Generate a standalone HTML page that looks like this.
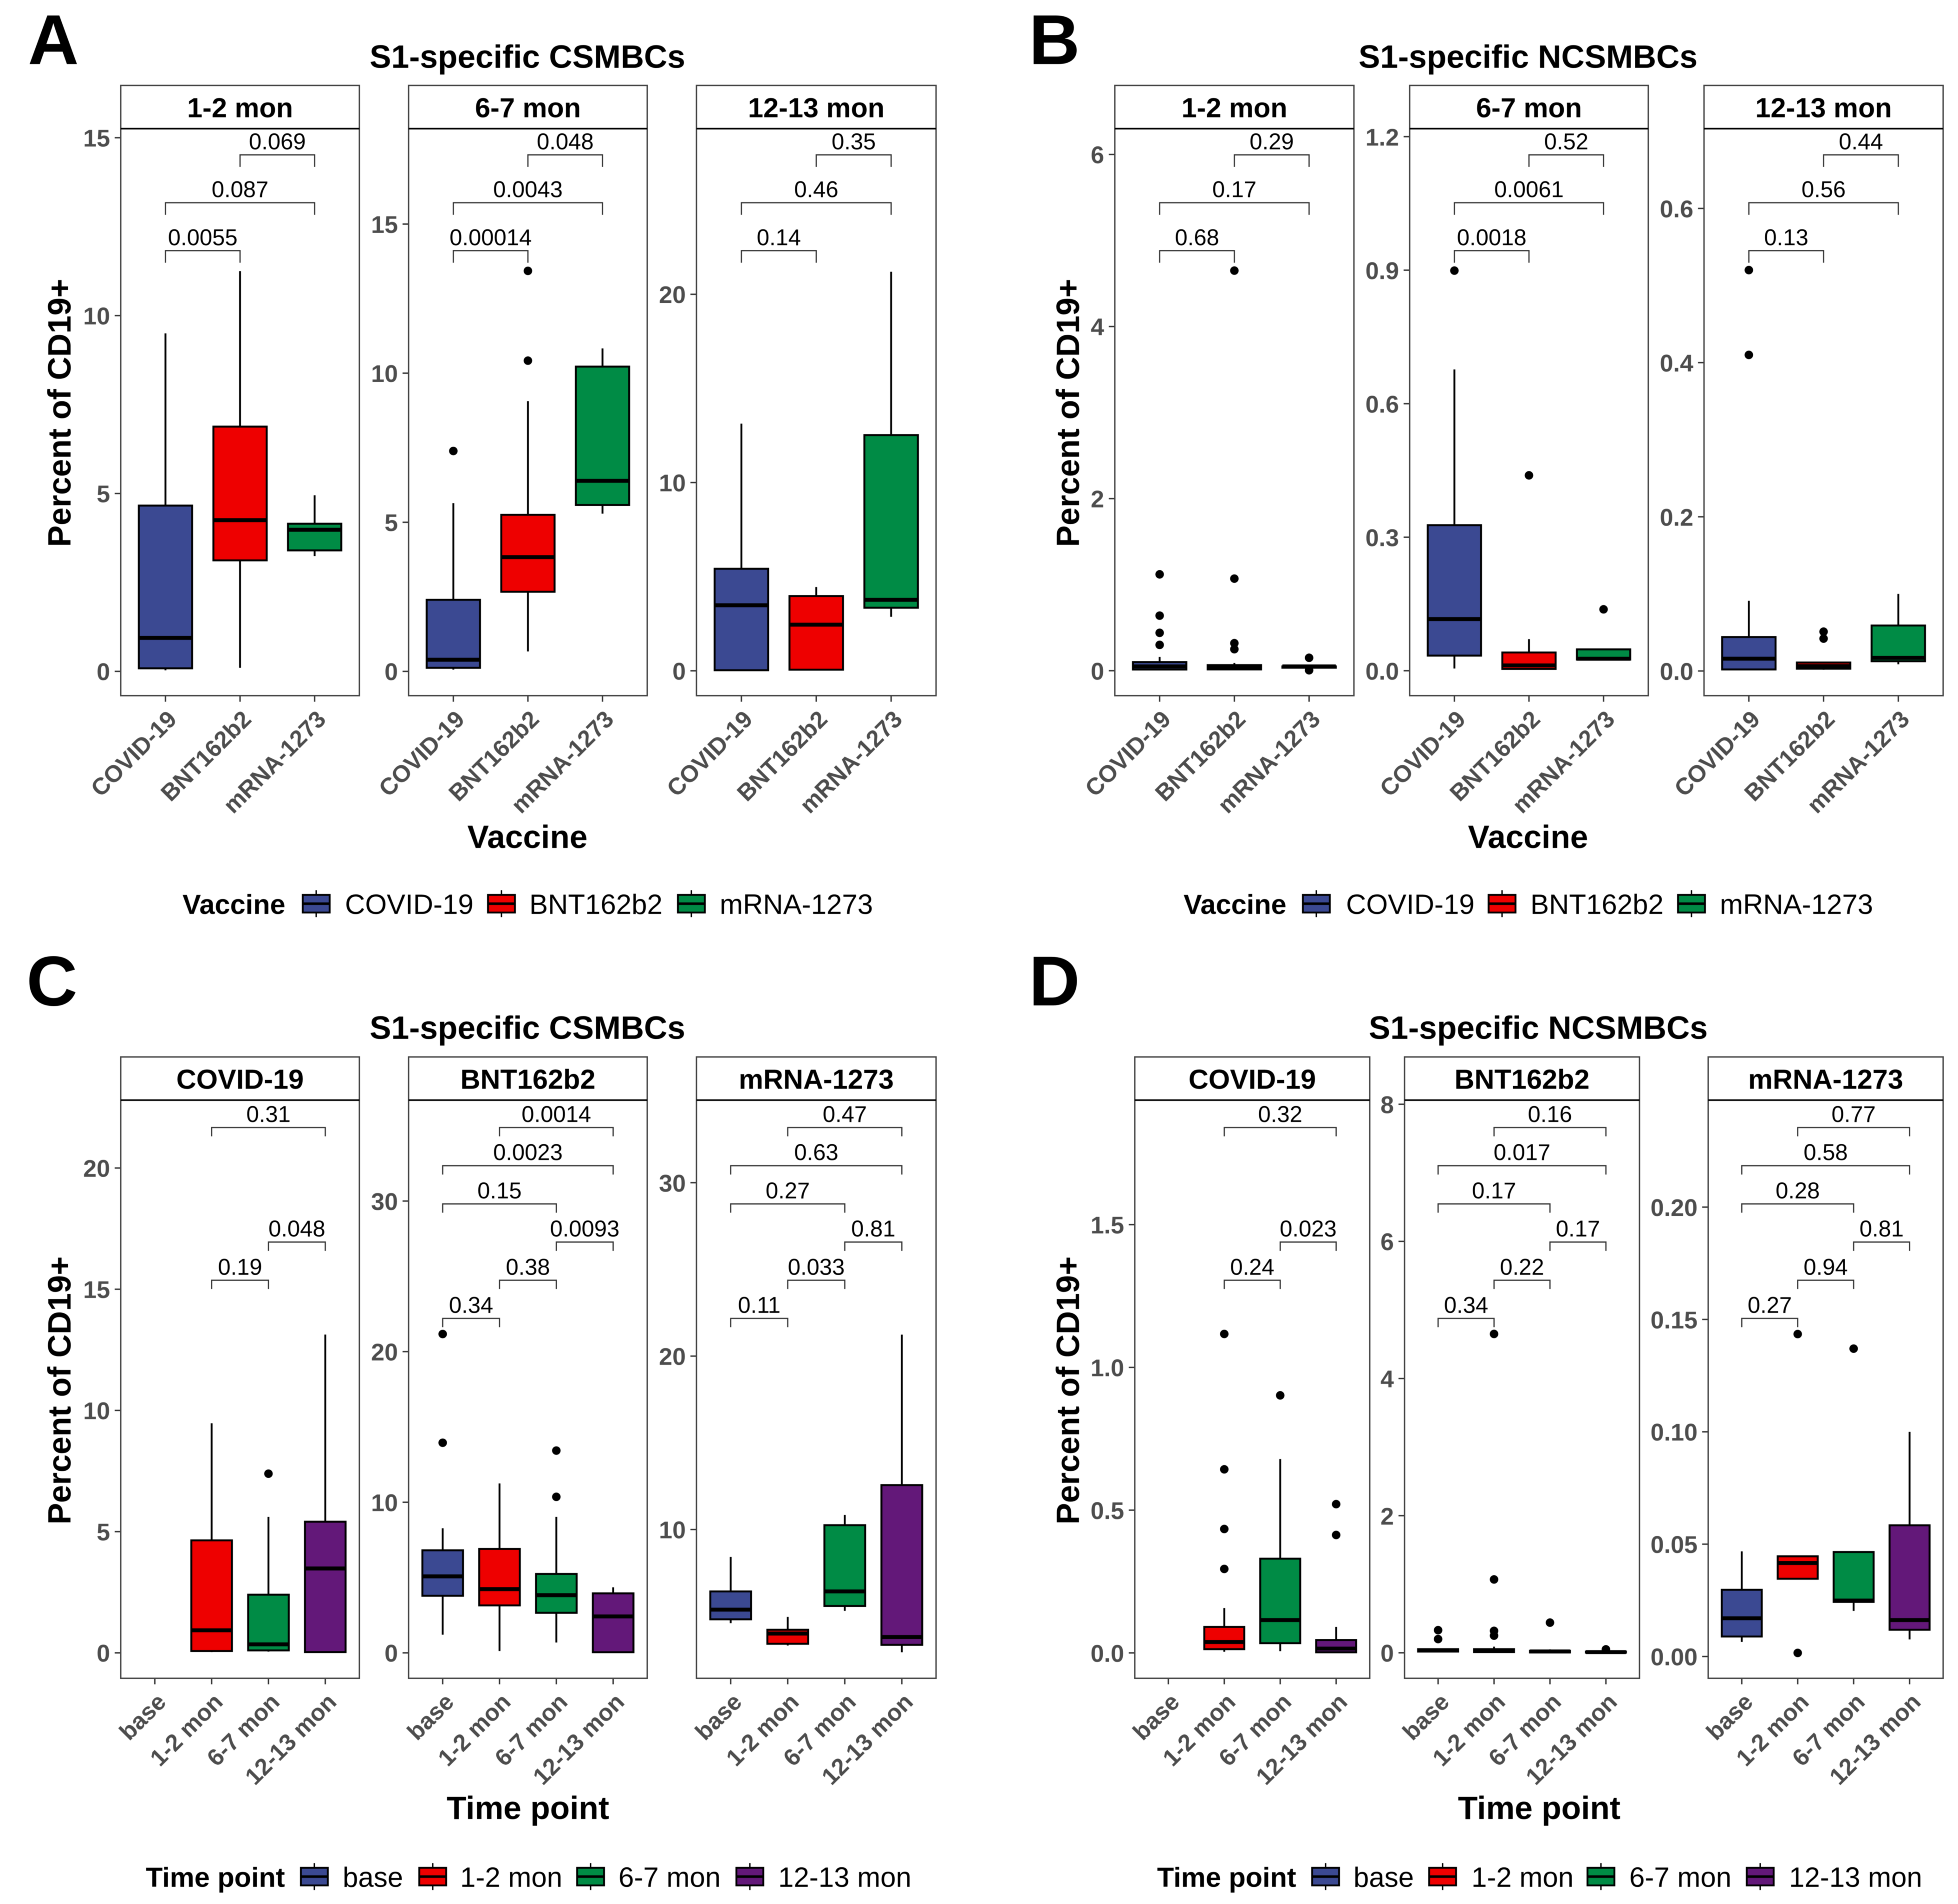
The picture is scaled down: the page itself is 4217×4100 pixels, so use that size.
<!DOCTYPE html>
<html lang="en">
<head>
<meta charset="utf-8">
<title>S1-specific memory B cell boxplots</title>
<style>
html,body{margin:0;padding:0;background:#fff;}
svg{display:block;font-family:"Liberation Sans",sans-serif;filter:blur(0.6px);}
</style>
</head>
<body>
<svg id="figure" xmlns="http://www.w3.org/2000/svg" width="4217" height="4100" viewBox="0 0 4217 4100">
<rect x="0" y="0" width="4217" height="4100" fill="#ffffff"/>
</svg>
<script>
// Category sets
const vaccineCats = ['COVID-19', 'BNT162b2', 'mRNA-1273'];
const timeCats = ['base', '1-2 mon', '6-7 mon', '12-13 mon'];

// Each stats row: [whisker low, q1, median, q3, whisker high]
// Panel A
const a1Stats = [[0.03,0.085,0.94,4.66,9.5],[0.1,3.12,4.25,6.88,11.25],[3.24,3.4,3.98,4.15,4.95]];
const a1Outliers = [[],[],[]];
const a1Domain = [-0.683,15.256];
const a1Ticks = [0,5,10,15];
const a1TickLabels = ['0','5','10','15'];
const a1P = ['0.069','0.087','0.0055'];

const a2Stats = [[0.06,0.12,0.39,2.4,5.64],[0.67,2.67,3.83,5.25,9.06],[5.29,5.58,6.39,10.22,10.83]];
const a2Outliers = [[7.39],[10.42,13.43],[]];
const a2Domain = [-0.814,18.2];
const a2Ticks = [0,5,10,15];
const a2TickLabels = ['0','5','10','15'];
const a2P = ['0.048','0.0043','0.00014'];

const a3Stats = [[0,0.03,3.48,5.42,13.13],[0.06,0.06,2.45,3.97,4.45],[2.87,3.35,3.77,12.52,21.2]];
const a3Outliers = [[],[],[]];
const a3Domain = [-1.32,28.8];
const a3Ticks = [0,10,20];
const a3TickLabels = ['0','10','20'];
const a3P = ['0.35','0.46','0.14'];

// Panel B
const b1Stats = [[0.01,0.014,0.05,0.1,0.16],[0.01,0.015,0.035,0.065,0.09],[0.03,0.035,0.05,0.05,0.06]];
const b1Outliers = [[0.3,0.44,0.64,1.12],[0.25,0.32,1.07,4.65],[0.005,0.15]];
const b1Domain = [-0.29,6.3];
const b1Ticks = [0,2,4,6];
const b1TickLabels = ['0','2','4','6'];
const b1P = ['0.29','0.17','0.68'];

const b2Stats = [[0.005,0.034,0.116,0.327,0.677],[0.003,0.004,0.012,0.041,0.071],[0.025,0.025,0.027,0.048,0.048]];
const b2Outliers = [[0.899],[0.439],[0.138]];
const b2Domain = [-0.056,1.218];
const b2Ticks = [0,0.3,0.6,0.9,1.2];
const b2TickLabels = ['0.0','0.3','0.6','0.9','1.2'];
const b2P = ['0.52','0.0061','0.0018'];

const b3Stats = [[0.0016,0.002,0.016,0.044,0.091],[0.0016,0.003,0.0063,0.011,0.011],[0.0087,0.0126,0.017,0.059,0.1]];
const b3Outliers = [[0.41,0.52],[0.042,0.051],[]];
const b3Domain = [-0.032,0.7035];
const b3Ticks = [0,0.2,0.4,0.6];
const b3TickLabels = ['0.0','0.2','0.4','0.6'];
const b3P = ['0.44','0.56','0.13'];

// Panel C
const c1Stats = [null,[0.03,0.075,0.93,4.64,9.47],[0.05,0.1,0.35,2.4,5.61],[0,0.03,3.48,5.41,13.13]];
const c1Outliers = [[],[],[7.39],[]];
const c1Domain = [-1.05,22.8];
const c1Ticks = [0,5,10,15,20];
const c1TickLabels = ['0','5','10','15','20'];
const c1P = ['0.31',null,null,'0.048','0.19',null];

const c2Stats = [[1.21,3.79,5.08,6.81,8.27],[0.12,3.15,4.23,6.9,11.25],[0.69,2.66,3.83,5.24,9.03],[0.04,0.04,2.42,3.95,4.35]];
const c2Outliers = [[13.95,21.17],[],[10.36,13.43],[]];
const c2Domain = [-1.69,36.7];
const c2Ticks = [0,10,20,30];
const c2TickLabels = ['0','10','20','30'];
const c2P = ['0.0014','0.0023','0.15','0.0093','0.38','0.34'];

const c3Stats = [[4.6,4.82,5.38,6.43,8.42],[3.31,3.41,4.0,4.22,4.96],[5.31,5.59,6.43,10.25,10.84],[2.92,3.35,3.8,12.56,21.24]];
const c3Outliers = [[],[],[],[]];
const c3Domain = [1.42,34.76];
const c3Ticks = [10,20,30];
const c3TickLabels = ['10','20','30'];
const c3P = ['0.47','0.63','0.27','0.81','0.033','0.11'];

// Panel D
const d1Stats = [null,[0.004,0.013,0.038,0.091,0.157],[0.006,0.034,0.115,0.33,0.679],[0,0.002,0.015,0.045,0.091]];
const d1Outliers = [[],[0.294,0.434,0.643,1.117],[0.902],[0.413,0.521]];
const d1Domain = [-0.089,1.936];
const d1Ticks = [0,0.5,1,1.5];
const d1TickLabels = ['0.0','0.5','1.0','1.5'];
const d1P = ['0.32',null,null,'0.023','0.24',null];

const d2Stats = [[0.01,0.018,0.035,0.053,0.06],[0,0.01,0.03,0.053,0.09],[0.005,0.005,0.02,0.03,0.05],[0.003,0.003,0.01,0.018,0.027]];
const d2Outliers = [[0.2,0.33],[0.25,0.32,1.07,4.65],[0.44],[0.05]];
const d2Domain = [-0.372,8.06];
const d2Ticks = [0,2,4,6,8];
const d2TickLabels = ['0','2','4','6','8'];
const d2P = ['0.16','0.017','0.17','0.17','0.22','0.34'];

const d3Stats = [[0.0065,0.0089,0.017,0.0297,0.0468],[0.0346,0.0346,0.0416,0.0446,0.0446],[0.0203,0.0243,0.0249,0.0465,0.0465],[0.0076,0.0119,0.0162,0.0584,0.1]];
const d3Outliers = [[],[0.0016,0.1435],[0.137],[]];
const d3Domain = [-0.0097,0.2476];
const d3Ticks = [0,0.05,0.1,0.15,0.2];
const d3TickLabels = ['0.00','0.05','0.10','0.15','0.20'];
const d3P = ['0.77','0.58','0.28','0.81','0.94','0.27'];

// Comparison pairs: [first category index, second category index, stacking level]
const threePairs = [[1,2,0],[0,2,1],[0,1,2]];
const fourPairs = [[1,3,0],[0,3,1],[0,2,2],[2,3,3],[1,2,4],[0,1,5]];

const palette = ['#3B4992','#EE0000','#008B45','#631879'];
const topRow = {top:184, stripBottom:277, bottom:1498, bracket0:333.4, step:103.2, tip:26};
const lowRow = {top:2276, stripBottom:2369, bottom:3614, bracket0:2428, step:82.2, tip:19};

const panels = [
  {id:'a1',strip:'1-2 mon',left:260,right:774,row:topRow,cats:vaccineCats,stats:a1Stats,outliers:a1Outliers,domain:a1Domain,ticks:a1Ticks,tickLabels:a1TickLabels,p:a1P,pairs:threePairs},
  {id:'a2',strip:'6-7 mon',left:880,right:1394,row:topRow,cats:vaccineCats,stats:a2Stats,outliers:a2Outliers,domain:a2Domain,ticks:a2Ticks,tickLabels:a2TickLabels,p:a2P,pairs:threePairs},
  {id:'a3',strip:'12-13 mon',left:1500,right:2016,row:topRow,cats:vaccineCats,stats:a3Stats,outliers:a3Outliers,domain:a3Domain,ticks:a3Ticks,tickLabels:a3TickLabels,p:a3P,pairs:threePairs},
  {id:'b1',strip:'1-2 mon',left:2401,right:2916,row:topRow,cats:vaccineCats,stats:b1Stats,outliers:b1Outliers,domain:b1Domain,ticks:b1Ticks,tickLabels:b1TickLabels,p:b1P,pairs:threePairs},
  {id:'b2',strip:'6-7 mon',left:3036,right:3550,row:topRow,cats:vaccineCats,stats:b2Stats,outliers:b2Outliers,domain:b2Domain,ticks:b2Ticks,tickLabels:b2TickLabels,p:b2P,pairs:threePairs},
  {id:'b3',strip:'12-13 mon',left:3670,right:4185,row:topRow,cats:vaccineCats,stats:b3Stats,outliers:b3Outliers,domain:b3Domain,ticks:b3Ticks,tickLabels:b3TickLabels,p:b3P,pairs:threePairs},
  {id:'c1',strip:'COVID-19',left:260,right:774,row:lowRow,cats:timeCats,stats:c1Stats,outliers:c1Outliers,domain:c1Domain,ticks:c1Ticks,tickLabels:c1TickLabels,p:c1P,pairs:fourPairs},
  {id:'c2',strip:'BNT162b2',left:880,right:1394,row:lowRow,cats:timeCats,stats:c2Stats,outliers:c2Outliers,domain:c2Domain,ticks:c2Ticks,tickLabels:c2TickLabels,p:c2P,pairs:fourPairs},
  {id:'c3',strip:'mRNA-1273',left:1500,right:2016,row:lowRow,cats:timeCats,stats:c3Stats,outliers:c3Outliers,domain:c3Domain,ticks:c3Ticks,tickLabels:c3TickLabels,p:c3P,pairs:fourPairs},
  {id:'d1',strip:'COVID-19',left:2444,right:2950,row:lowRow,cats:timeCats,stats:d1Stats,outliers:d1Outliers,domain:d1Domain,ticks:d1Ticks,tickLabels:d1TickLabels,p:d1P,pairs:fourPairs},
  {id:'d2',strip:'BNT162b2',left:3025,right:3531,row:lowRow,cats:timeCats,stats:d2Stats,outliers:d2Outliers,domain:d2Domain,ticks:d2Ticks,tickLabels:d2TickLabels,p:d2P,pairs:fourPairs},
  {id:'d3',strip:'mRNA-1273',left:3679,right:4185,row:lowRow,cats:timeCats,stats:d3Stats,outliers:d3Outliers,domain:d3Domain,ticks:d3Ticks,tickLabels:d3TickLabels,p:d3P,pairs:fourPairs}
];

const headings = [
  {id:'a',letter:'A',letterX:60,letterY:138,title:'S1-specific CSMBCs',titleX:1136,titleY:146,yTitleX:152,yTitleY:889,xTitle:'Vaccine',xTitleX:1136,xTitleY:1826},
  {id:'b',letter:'B',letterX:2216,letterY:138,title:'S1-specific NCSMBCs',titleX:3291,titleY:146,yTitleX:2324,yTitleY:889,xTitle:'Vaccine',xTitleX:3291,xTitleY:1826},
  {id:'c',letter:'C',letterX:57,letterY:2165,title:'S1-specific CSMBCs',titleX:1136,titleY:2237,yTitleX:152,yTitleY:2994,xTitle:'Time point',xTitleX:1137,xTitleY:3917},
  {id:'d',letter:'D',letterX:2216,letterY:2165,title:'S1-specific NCSMBCs',titleX:3313,titleY:2237,yTitleX:2324,yTitleY:2994,xTitle:'Time point',xTitleX:3315,xTitleY:3917}
];

const legends = [
  {id:'a',title:'Vaccine',titleX:393,y:1946,cats:vaccineCats,keyX:[652,1051,1460],textX:[743,1140,1550]},
  {id:'b',title:'Vaccine',titleX:2549,y:1946,cats:vaccineCats,keyX:[2806,3206,3614],textX:[2899,3296,3704]},
  {id:'c',title:'Time point',titleX:314,y:4041,cats:timeCats,keyX:[648,903,1243,1586],textX:[738,991,1332,1676]},
  {id:'d',title:'Time point',titleX:2492,y:4041,cats:timeCats,keyX:[2826,3078,3419,3762],textX:[2915,3169,3509,3853]}
];

const svg = document.getElementById('figure');
const NS = 'http://www.w3.org/2000/svg';

function make(tag, parent, attrs, text) {
  const node = document.createElementNS(NS, tag);
  for (const key in attrs) node.setAttribute(key, attrs[key]);
  if (text !== undefined) node.textContent = text;
  parent.appendChild(node);
  return node;
}

function linePath(x1, y1, x2, y2, stroke, width, parent) {
  return make('line', parent, {x1:x1, y1:y1, x2:x2, y2:y2, stroke:stroke, 'stroke-width':width});
}

function slug(s) {
  return String(s).toLowerCase().replace(/[^a-z0-9]+/g, '-');
}

function drawPanel(p) {
  const row = p.row;
  const width = p.right - p.left;
  const unit = width / (p.cats.length + 0.2);
  const boxW = unit * 0.715;
  const xScale = i => p.left + (i + 0.6) * unit;
  const yScale = v => row.bottom - (v - p.domain[0]) / (p.domain[1] - p.domain[0]) * (row.bottom - row.stripBottom);

  const g = make('g', svg, {});
  
  

  const bg = make('rect', g, {x:p.left, y:row.stripBottom, width:width, height:row.bottom-row.stripBottom, fill:'#ffffff'});
  
  

  // y axis
  p.ticks.forEach((t, i) => {
    const y = yScale(t);
    const tick = linePath(p.left - 13, y, p.left, y, '#333333', 3, g);
    
    
    const lab = make('text', g, {x:p.left - 23, y:y + 19, 'text-anchor':'end', 'font-size':52, 'font-weight':'bold', fill:'#4d4d4d'}, p.tickLabels[i]);
    
    
  });

  // x axis
  p.cats.forEach((c, i) => {
    const x = xScale(i);
    const tick = linePath(x, row.bottom, x, row.bottom + 13, '#333333', 3, g);
    
    
    const ax = x + 27;
    const ay = row.bottom + 54;
    const lab = make('text', g, {x:ax, y:ay, 'text-anchor':'end', 'font-size':51, 'font-weight':'bold', fill:'#4d4d4d', transform:'rotate(-45 ' + ax + ' ' + ay + ')'}, c);
    
    
  });

  // boxes
  p.stats.forEach((s, i) => {
    if (!s) return;
    const cat = p.cats[i];
    const x = xScale(i);
    const low = yScale(s[0]), q1 = yScale(s[1]), med = yScale(s[2]), q3 = yScale(s[3]), high = yScale(s[4]);
    const wTop = linePath(x, q3, x, high, '#000000', 4, g);
    
    
    const wLow = linePath(x, q1, x, low, '#000000', 4, g);
    
    
    const box = make('rect', g, {x:x - boxW / 2, y:q3, width:boxW, height:q1 - q3, fill:palette[i], stroke:'#000000', 'stroke-width':4.2});
    
    
    const medLine = linePath(x - boxW / 2, med, x + boxW / 2, med, '#000000', 8.5, g);
    
    
  });

  // outliers
  p.outliers.forEach((list, i) => {
    list.forEach(v => {
      const dot = make('circle', g, {cx:xScale(i), cy:yScale(v), r:9.2, fill:'#000000'});
      
      
    });
  });

  // significance brackets
  p.pairs.forEach((pair, i) => {
    if (p.p[i] === null) return;
    const x1 = xScale(pair[0]);
    const x2 = xScale(pair[1]);
    const y = row.bracket0 + pair[2] * row.step;
    const br = make('path', g, {d:'M' + x1 + ' ' + (y + row.tip) + 'V' + y + 'H' + x2 + 'V' + (y + row.tip), fill:'none', stroke:'#333333', 'stroke-width':2.6});
    
    
    const lab = make('text', g, {x:(x1 + x2) / 2, y:y - 12, 'text-anchor':'middle', 'font-size':49, fill:'#000000'}, p.p[i]);
    
    
  });

  // panel border and strip
  const border = make('rect', g, {x:p.left, y:row.stripBottom, width:width, height:row.bottom-row.stripBottom, fill:'none', stroke:'#444444', 'stroke-width':3});
  
  
  const strip = make('rect', g, {x:p.left, y:row.top, width:width, height:row.stripBottom-row.top, fill:'#ffffff', stroke:'#444444', 'stroke-width':3});
  
  
  const stripEdge = linePath(p.left, row.stripBottom, p.right, row.stripBottom, '#000000', 3.6, g);
  
  
  const stripText = make('text', g, {x:(p.left + p.right) / 2, y:(row.top + row.stripBottom) / 2 + 22, 'text-anchor':'middle', 'font-size':59.5, 'font-weight':'bold', fill:'#000000'}, p.strip);
  
  
}

function drawHeading(h) {
  const letter = make('text', svg, {x:h.letterX, y:h.letterY, 'font-size':152, 'font-weight':'bold', fill:'#000000'}, h.letter);
  
  
  const title = make('text', svg, {x:h.titleX, y:h.titleY, 'text-anchor':'middle', 'font-size':69.5, 'font-weight':'bold', fill:'#000000'}, h.title);
  
  
  const yTitle = make('text', svg, {x:h.yTitleX, y:h.yTitleY, 'text-anchor':'middle', 'font-size':69.5, 'font-weight':'bold', fill:'#000000', transform:'rotate(-90 ' + h.yTitleX + ' ' + h.yTitleY + ')'}, 'Percent of CD19+');
  
  
  const xTitle = make('text', svg, {x:h.xTitleX, y:h.xTitleY, 'text-anchor':'middle', 'font-size':69.5, 'font-weight':'bold', fill:'#000000'}, h.xTitle);
  
  
}

function drawLegend(l) {
  const g = make('g', svg, {});
  
  
  const title = make('text', g, {x:l.titleX, y:l.y + 22, 'font-size':59.5, 'font-weight':'bold', fill:'#000000'}, l.title);
  
  
  l.cats.forEach((c, i) => {
    const kx = l.keyX[i];
    const cx = kx + 29;
    const entry = make('g', g, {});
    
    
    const whisker = linePath(cx, l.y - 29, cx, l.y + 29, '#000000', 3, entry);
    
    
    const rect = make('rect', entry, {x:kx, y:l.y - 19, width:58, height:38, fill:palette[i], stroke:'#000000', 'stroke-width':4});
    
    
    const mid = linePath(kx, l.y, kx + 58, l.y, '#000000', 5.5, entry);
    
    
    const lab = make('text', entry, {x:l.textX[i], y:l.y + 22, 'font-size':60, fill:'#000000'}, c);
    
    
  });
}

headings.forEach(drawHeading);
panels.forEach(drawPanel);
legends.forEach(drawLegend);
</script>
</body>
</html>
